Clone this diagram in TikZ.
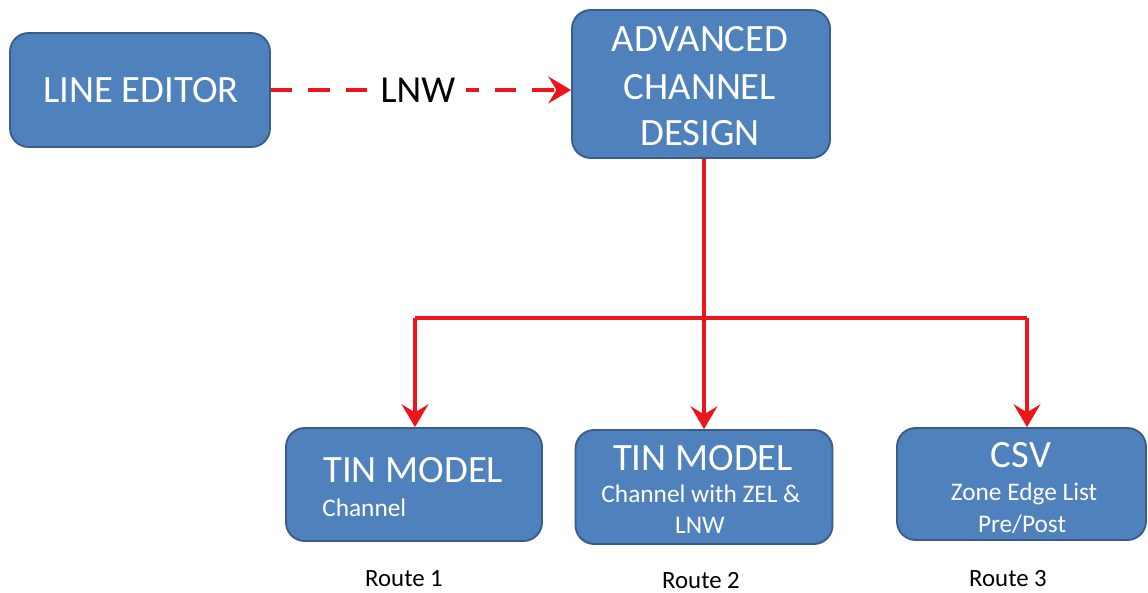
\documentclass[tikz,border=0pt]{standalone}
\usepackage{fontspec}
\setmainfont{Carlito}
\usetikzlibrary{arrows.meta}
\definecolor{boxblue}{HTML}{4F81BD}
\definecolor{boxedge}{HTML}{385D8A}
\definecolor{linered}{RGB}{238,20,28}
\tikzset{
  blockbox/.style={draw=boxedge, line width=1.4pt, fill=boxblue, rounded corners=14pt, inner sep=0pt},
  bigtxt/.style={text=white, anchor=base, inner sep=0pt, font=\fontsize{29}{34}\selectfont},
  smalltxt/.style={text=white, anchor=base, inner sep=0pt, font=\fontsize{19}{23}\selectfont},
  routetxt/.style={text=black, anchor=base, inner sep=0pt, font=\fontsize{18.6}{22}\selectfont},
  redline/.style={draw=linered, line width=3pt},
  redtip/.style={-{Stealth[length=17pt, width=20pt, inset=6pt]}},
}
\begin{document}
\begin{tikzpicture}[x=0.75pt, y=-0.75pt]
\useasboundingbox (0,0) rectangle (1148,592);
% boxes
\node[blockbox, minimum width=260*0.75pt, minimum height=114*0.75pt] (le) at (140,90) {};
\node[blockbox, minimum width=258*0.75pt, minimum height=148*0.75pt] (acd) at (701,84) {};
\node[blockbox, minimum width=256*0.75pt, minimum height=113*0.75pt] (t1) at (414,484.5) {};
\node[blockbox, minimum width=257*0.75pt, minimum height=114*0.75pt] (t2) at (704,487) {};
\node[blockbox, minimum width=249*0.75pt, minimum height=112*0.75pt] (csv) at (1021.5,484) {};
% box texts
\node[bigtxt] (letxt) at (141,102) {LINE EDITOR};
\node[bigtxt] (acd1) at (700,52) {ADVANCED};
\node[bigtxt] (acd2) at (700,99) {CHANNEL};
\node[bigtxt] (acd3) at (700,145) {DESIGN};
\node[bigtxt, anchor=base west] (t1a) at (323,482) {TIN MODEL};
\node[smalltxt, anchor=base west] (t1b) at (322,516) {Channel};
\node[bigtxt] (t2a) at (703,470) {TIN MODEL};
\node[smalltxt] (t2b) at (701,502) {Channel with ZEL \&};
\node[smalltxt] (t2c) at (700,533) {LNW};
\node[bigtxt] (csva) at (1021,467) {CSV};
\node[smalltxt] (csvb) at (1024,500) {Zone Edge List};
\node[smalltxt] (csvc) at (1022,532) {Pre/Post};
% route labels
\node[routetxt] (r1) at (404,586) {Route 1};
\node[routetxt] (r2) at (701,588) {Route 2};
\node[routetxt] (r3) at (1008,586) {Route 3};
% dashed connector
\draw[redline, redtip, dash pattern=on 16pt off 12pt] (le.east) -- (le.east -| acd.west)
  node[pos=0.49, fill=white, inner xsep=8pt, inner ysep=2pt, text=black, font=\fontsize{28.6}{34}\selectfont] (lnw) {LNW};
% solid connectors
\coordinate (bl) at (415,318);
\coordinate (br) at (1027,318);
\draw[redline, redtip] (acd.south -| t2.north) -- (t2.north);
\draw[redline] (bl) -- (br);
\draw[redline, redtip] (bl) -- (bl |- t1.north);
\draw[redline, redtip] (br) -- (br |- csv.north);
\end{tikzpicture}
\end{document}
